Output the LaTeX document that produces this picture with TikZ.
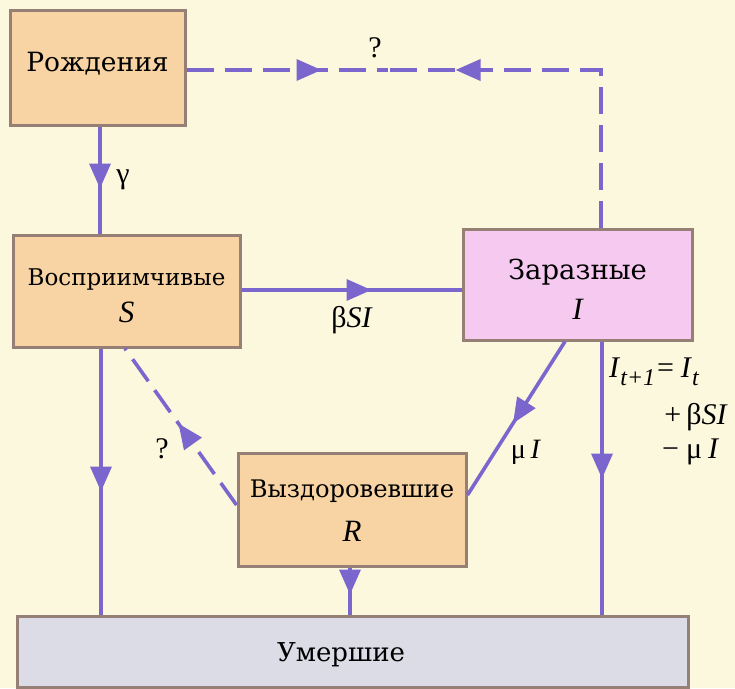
\documentclass[tikz,border=0pt]{standalone}
\usepackage{fontspec}
\setmainfont{Liberation Serif}
\newfontfamily\dvs{DejaVu Serif}
\usetikzlibrary{arrows.meta,decorations.markings,calc}
\definecolor{bgc}{RGB}{251,248,222}
\definecolor{orangebox}{RGB}{248,212,164}
\definecolor{pinkbox}{RGB}{246,202,240}
\definecolor{graybox}{RGB}{220,220,230}
\definecolor{boxline}{RGB}{150,128,118}
\definecolor{flowc}{RGB}{122,102,204}
\begin{document}
\begin{tikzpicture}[x=1pt,y=-1pt,
  box/.style={draw=boxline, line width=3pt, inner sep=0pt},
  boxtxt/.style={inner sep=0pt, font=\dvs\fontsize{#1}{#1}\selectfont},
  vartxt/.style={inner sep=0pt, font=\fontsize{31}{32}\selectfont\itshape},
  flow/.style={draw=flowc, line width=3.6pt},
  dashflow/.style={flow, dash pattern=on 27pt off 11pt},
  midarrow/.style={postaction={decorate}, decoration={markings,
     mark=at position #1 with {\arrow[flowc]{Triangle[length=25pt,width=21pt]}}}},
  lbl/.style={inner sep=0pt, font=\fontsize{30}{32}\selectfont},
]
\fill[bgc] (0,0) rectangle (735,688);
\useasboundingbox (0,0) rectangle (735,688);

% boxes
\node[box, fill=orangebox, minimum width=175pt, minimum height=115pt] (birth) at (97.5,67.5) {};
\node[box, fill=orangebox, minimum width=227pt, minimum height=112pt] (sus) at (126.5,291) {};
\node[box, fill=pinkbox, minimum width=229pt, minimum height=111pt] (inf) at (577.5,284.5) {};
\node[box, fill=orangebox, minimum width=228pt, minimum height=113pt] (rec) at (352,509.5) {};
\node[box, fill=graybox, minimum width=671pt, minimum height=71pt] (dead) at (352.5,651.5) {};

% box texts
\node[boxtxt=26.5] (birthT) at ([yshift=4pt]birth.center) {Рождения};
\node[boxtxt=23] (susT) at ([yshift=11pt]sus.center) {Восприимчивые};
\node[vartxt] (susV) at ([yshift=-21.5pt]sus.center) {S};
\node[boxtxt=27.5] (infT) at ([yshift=12.5pt]inf.center) {Заразные};
\node[vartxt] (infV) at ([yshift=-24.5pt]inf.center) {I};
\node[boxtxt=24.2] (recT) at ([yshift=18.5pt]rec.center) {Выздоровевшие};
\node[vartxt] (recV) at ([yshift=-21.5pt]rec.center) {R};
\node[boxtxt=26] (deadT) at ([xshift=-11.5pt,yshift=-3.5pt]dead.center) {Умершие};

% connectors
\coordinate (q) at (388,70);
\draw[flow, midarrow=62pt] ([xshift=2.5pt]birth.south) -- ([xshift=2.5pt]birth.south |- sus.north);
\draw[dashflow, midarrow=135pt] ([yshift=-2.5pt]birth.east) -- (q);
\draw[dashflow, midarrow=303pt] ([xshift=23.5pt]inf.north) |- (q);
\draw[flow, midarrow=130pt] ([yshift=1pt]sus.east) -- ([yshift=1pt]sus.east -| inf.west);
\draw[flow, midarrow=143pt] ([xshift=-25.5pt]sus.south) -- ([xshift=-25.5pt]sus.south |- dead.north);
\draw[dashflow, midarrow=100pt] ([yshift=4.5pt]rec.west) -- ([xshift=-1.5pt]sus.south);
\draw[flow, midarrow=97pt] ([xshift=-12.5pt]inf.south) -- ([yshift=14.5pt]rec.east);
\draw[flow, midarrow=137pt] ([xshift=24.5pt]inf.south) -- ([xshift=24.5pt]inf.south |- dead.north);
\draw[flow, midarrow=27pt] ([xshift=-2pt]rec.south) -- ([xshift=-2pt]rec.south |- dead.north);

% labels
\node[lbl] (qtop) at (375,48) {?};
\node[lbl] (gam) at (123,180) {γ};
\node[lbl] (bsi) at (352,320) {β\textit{SI}};
\node[lbl] (qlow) at (162,449) {?};
\node[lbl, font=\fontsize{28}{30}\selectfont] (mui) at (526,452) {μ\,\textit{I}};
\node[lbl, anchor=west] (f1) at (609,372)
  {\textit{I}\raisebox{-8pt}{\fontsize{24}{24}\selectfont\textit{t}\kern1pt+\kern1pt\textit{1}}\kern2pt=\kern7pt\textit{I}\raisebox{-8pt}{\fontsize{24}{24}\selectfont\textit{t}}};
\node[lbl, anchor=east] (f2) at (728,417) {+\hspace{5pt}β\textit{SI}};
\node[lbl, anchor=west] (f3) at (662,452) {−\hspace{7pt}μ\hspace{6pt}\textit{I}};
\end{tikzpicture}
\end{document}
